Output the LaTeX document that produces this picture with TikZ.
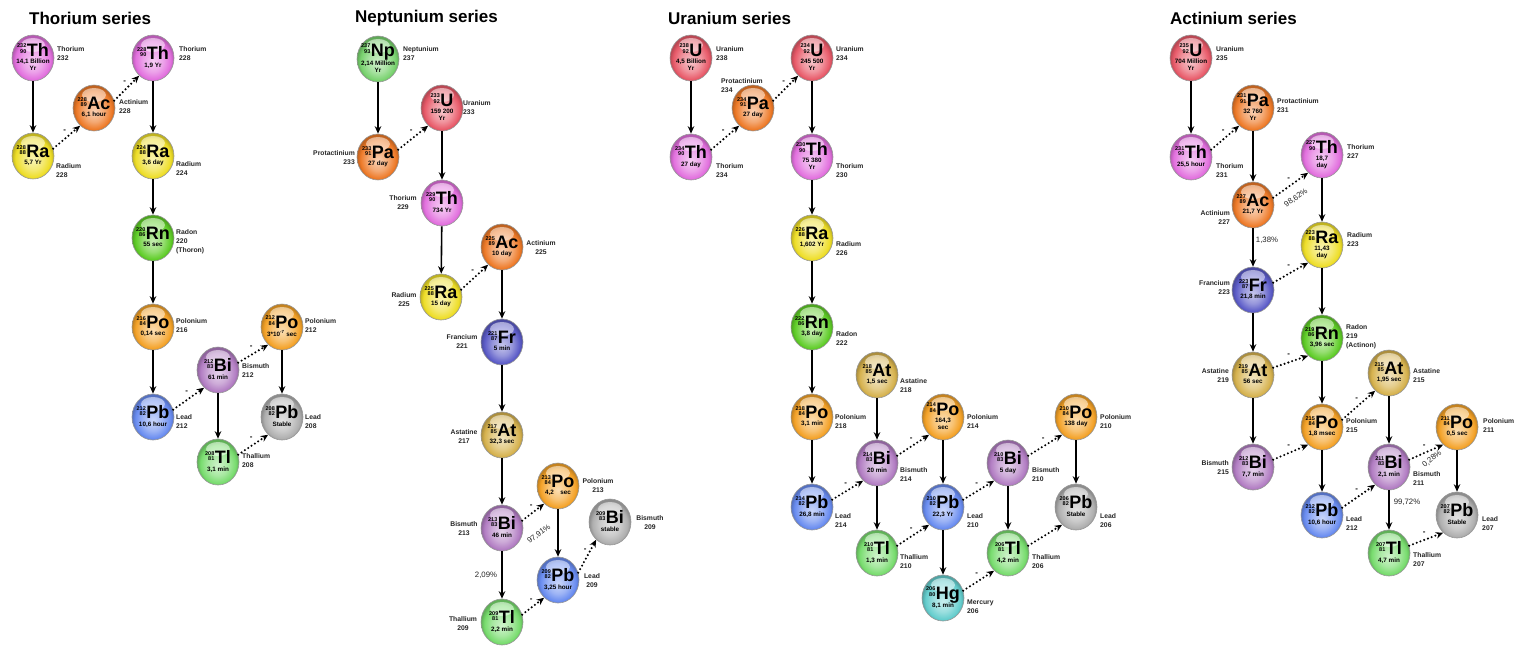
\documentclass[tikz,border=0pt]{standalone}
\usepackage{fontspec}
\setmainfont{Liberation Sans}
\usetikzlibrary{shapes.geometric,arrows.meta}
\definecolor{cTh}{RGB}{226,112,222}
\definecolor{cRa}{RGB}{238,222,40}
\definecolor{cAc}{RGB}{238,122,40}
\definecolor{cRn}{RGB}{95,205,40}
\definecolor{cPo}{RGB}{244,162,40}
\definecolor{cPb}{RGB}{105,140,240}
\definecolor{cBi}{RGB}{178,125,195}
\definecolor{cTl}{RGB}{120,220,110}
\definecolor{cSt}{RGB}{175,175,175}
\definecolor{cNp}{RGB}{120,210,110}
\definecolor{cU}{RGB}{232,90,105}
\definecolor{cPa}{RGB}{238,122,40}
\definecolor{cFr}{RGB}{92,92,200}
\definecolor{cAt}{RGB}{214,178,78}
\definecolor{cHg}{RGB}{100,205,205}
\colorlet{ballc}{cTh}\colorlet{ballin}{white}\colorlet{ballmid}{white}\colorlet{ballout}{black}
\pgfdeclareradialshading[ballin,ballmid,ballc,ballout]{glossy}{\pgfpoint{0bp}{-4bp}}{color(0bp)=(ballin); color(12bp)=(ballmid); color(21bp)=(ballc); color(25bp)=(ballout); color(50bp)=(ballout)}
\newcommand\nucl[4]{\fontsize{6.3}{6.8}\selectfont\bfseries\begin{tabular}{@{}c@{}}{\fontsize{5.5}{5.8}\selectfont\raisebox{3pt}{\begin{tabular}[b]{@{}r@{}}#1\\#2\end{tabular}}}\kern0.5pt{\fontsize{18}{18}\selectfont #3}\\[0.3pt] #4\end{tabular}}
\newcommand\nuc[7]{%
  \colorlet{ballc}{#3}\colorlet{ballin}{#3!35!white}\colorlet{ballmid}{#3!65!white}\colorlet{ballout}{#3!80!black}%
  \node[ball] (#1) at #2 {};
  \node[intext] (#1t) at (#1.center) {\nucl{#4}{#5}{#6}{#7}};}
\newcommand\labR[3]{\node[lab,anchor=north west,align=left] (#1) at #2 {#3};}
\newcommand\labL[3]{\node[lab,anchor=north east,align=right] (#1) at #2 {#3};}
\newcommand\labC[3]{\node[lab,anchor=north,align=center] (#1) at #2 {#3};}
\newcommand\alf[2]{\draw[alpha] (#1) -- (#2);}
\newcommand\bet[2]{\draw[beta] (#1.20) -- (#2.232) node[dashl] (#1#2m) {-};}
\tikzset{
  ball/.style={ellipse, minimum width=42pt, minimum height=46pt, inner sep=0pt,
    draw=black!40, line width=0.6pt, shading=glossy, shade,
    path picture={\fill[white,opacity=0.5,shift={(path picture bounding box.center)}] (0,-13) ellipse (12 and 7);}},
  intext/.style={inner sep=0pt, text=black},
  lab/.style={font=\fontsize{6.8}{9}\selectfont\bfseries, inner sep=0pt, yshift=2.7pt, text=black!85},
  alpha/.style={line width=1.6pt, -{Stealth[length=7.5pt,width=6.5pt]}},
  beta/.style={line width=2.3pt, dash pattern=on 0pt off 4pt, line cap=round, -{Stealth[length=7.5pt,width=6.5pt]}},
  dashl/.style={midway, above=4pt, xshift=-2pt, font=\fontsize{8}{8}\selectfont\bfseries, inner sep=0pt},
  pct/.style={font=\fontsize{7.8}{8}\selectfont, inner sep=0pt, text=black!85},
  ttl/.style={font=\fontsize{17}{17}\selectfont\bfseries, anchor=west, inner sep=0pt}
}
\begin{document}
\begin{tikzpicture}[x=1pt,y=-1pt]
\useasboundingbox (0,0) rectangle (1525,645);
\fill[white] (0,0) rectangle (1525,645);
% titles
\node[ttl] (t1) at (29,18) {Thorium series};
\node[ttl] (t2) at (355,18) {Neptunium series};
\node[ttl] (t3) at (668,18) {Uranium series};
\node[ttl] (t4) at (1170,18) {Actinium series};
% ---------------- Thorium series
\nuc{thThA}{(33,58)}{cTh}{232}{90}{Th}{14,1 Billion\\Yr}
\nuc{thRaA}{(33,156)}{cRa}{228}{88}{Ra}{5,7 Yr}
\nuc{thAc}{(94,108)}{cAc}{228}{89}{Ac}{6,1 hour}
\nuc{thThB}{(153,58)}{cTh}{228}{90}{Th}{1,9 Yr}
\nuc{thRaB}{(153,156)}{cRa}{224}{88}{Ra}{3,6 day}
\nuc{thRn}{(153,238)}{cRn}{220}{86}{Rn}{55 sec}
\nuc{thPoA}{(153,327)}{cPo}{216}{84}{Po}{0,14 sec}
\nuc{thPbA}{(153,417)}{cPb}{212}{82}{Pb}{10,6 hour}
\nuc{thBi}{(218,370)}{cBi}{212}{83}{Bi}{61 min}
\nuc{thPoB}{(282,327)}{cPo}{212}{84}{Po}{3*10\textsuperscript{-7} sec}
\nuc{thPbB}{(282,417)}{cSt}{208}{82}{Pb}{Stable}
\nuc{thTl}{(218,462)}{cTl}{208}{81}{Tl}{3,1 min}
\labR{lthThA}{(57,49)}{Thorium\\232}
\labR{lthRaA}{(56,166)}{Radium\\228}
\labR{lthAc}{(119,102)}{Actinium\\228}
\labR{lthThB}{(179,49)}{Thorium\\228}
\labR{lthRaB}{(176,164)}{Radium\\224}
\labR{lthRn}{(176,232)}{Radon\\220\\(Thoron)}
\labR{lthPoA}{(176,321)}{Polonium\\216}
\labR{lthPbA}{(176,417)}{Lead\\212}
\labR{lthBi}{(242,366)}{Bismuth\\212}
\labR{lthPoB}{(305,321)}{Polonium\\212}
\labR{lthPbB}{(305,417)}{Lead\\208}
\labR{lthTl}{(242,456)}{Thallium\\208}
\alf{thThA}{thRaA}
\alf{thThB}{thRaB}
\alf{thRaB}{thRn}
\alf{thRn}{thPoA}
\alf{thPoA}{thPbA}
\alf{thBi}{thTl}
\alf{thPoB}{thPbB}
\bet{thRaA}{thAc}
\bet{thAc}{thThB}
\bet{thPbA}{thBi}
\bet{thBi}{thPoB}
\bet{thTl}{thPbB}
% ---------------- Neptunium series
\nuc{npNp}{(378,59)}{cNp}{237}{93}{Np}{2,14 Million\\Yr}
\nuc{npPa}{(378,157)}{cPa}{233}{91}{Pa}{27 day}
\nuc{npU}{(442,108)}{cU}{233}{92}{U}{159 200\\Yr}
\nuc{npTh}{(442,203)}{cTh}{229}{90}{Th}{734 Yr}
\nuc{npAc}{(502,247)}{cAc}{225}{89}{Ac}{10 day}
\nuc{npRa}{(441,297)}{cRa}{225}{88}{Ra}{15 day}
\nuc{npFr}{(502,342)}{cFr}{221}{87}{Fr}{5 min}
\nuc{npAt}{(502,435)}{cAt}{217}{85}{At}{32,3 sec}
\nuc{npBiA}{(502,528)}{cBi}{213}{83}{Bi}{46 min}
\nuc{npPo}{(558,486)}{cPo}{213}{84}{Po}{4,2\quad sec}
\nuc{npBiB}{(610,522)}{cSt}{209}{83}{Bi}{stable}
\nuc{npPb}{(558,580)}{cPb}{209}{82}{Pb}{3,25 hour}
\nuc{npTl}{(502,622)}{cTl}{209}{81}{Tl}{2,2 min}
\labR{lnpNp}{(403,49)}{Neptunium\\237}
\labL{lnpPa}{(355,153)}{Protactinium\\233}
\labR{lnpU}{(463,103)}{Uranium\\233}
\labC{lnpTh}{(403,198)}{Thorium\\229}
\labC{lnpAc}{(541,243)}{Actinium\\225}
\labC{lnpRa}{(404,295)}{Radium\\225}
\labC{lnpFr}{(462,337)}{Francium\\221}
\labC{lnpAt}{(464,432)}{Astatine\\217}
\labC{lnpBiA}{(464,524)}{Bismuth\\213}
\labC{lnpTl}{(463,619)}{Thallium\\209}
\labC{lnpPo}{(598,481)}{Polonium\\213}
\labC{lnpBiB}{(650,518)}{Bismuth\\209}
\labC{lnpPb}{(592,576)}{Lead\\209}
\alf{npNp}{npPa}
\alf{npU}{npTh}
\alf{npTh}{npRa}
\alf{npAc}{npFr}
\alf{npFr}{npAt}
\alf{npAt}{npBiA}
\alf{npBiA}{npTl}
\alf{npPo}{npPb}
\bet{npPa}{npU}
\bet{npRa}{npAc}
\bet{npBiA}{npPo}
\bet{npTl}{npPb}
\bet{npPb}{npBiB}
\node[pct] (npp1) at (486,575) {2,09\%};
\node[pct,rotate=36] (npp2) at (539,534) {97,91\%};
% ---------------- Uranium series
\nuc{uUA}{(691,58)}{cU}{238}{92}{U}{4,5 Billion\\Yr}
\nuc{uThA}{(691,157)}{cTh}{234}{90}{Th}{27 day}
\nuc{uPa}{(753,108)}{cPa}{234}{91}{Pa}{27 day}
\nuc{uUB}{(812,58)}{cU}{234}{92}{U}{245 500\\Yr}
\nuc{uThB}{(812,157)}{cTh}{230}{90}{Th}{75 380\\Yr}
\nuc{uRa}{(812,238)}{cRa}{226}{88}{Ra}{1,602 Yr}
\nuc{uRn}{(812,327)}{cRn}{222}{86}{Rn}{3,8 day}
\nuc{uPoA}{(812,417)}{cPo}{218}{84}{Po}{3,1 min}
\nuc{uAt}{(877,375)}{cAt}{218}{85}{At}{1,5 sec}
\nuc{uPbA}{(812,507)}{cPb}{214}{82}{Pb}{26,8 min}
\nuc{uBiA}{(877,463)}{cBi}{214}{83}{Bi}{20 min}
\nuc{uPoB}{(943,417)}{cPo}{214}{84}{Po}{164,3\\sec}
\nuc{uTlA}{(877,553)}{cTl}{210}{81}{Tl}{1,3 min}
\nuc{uPbB}{(943,507)}{cPb}{210}{82}{Pb}{22,3 Yr}
\nuc{uHg}{(943,598)}{cHg}{206}{80}{Hg}{8,1 min}
\nuc{uBiB}{(1008,463)}{cBi}{210}{83}{Bi}{5 day}
\nuc{uPoC}{(1076,417)}{cPo}{210}{84}{Po}{138 day}
\nuc{uTlB}{(1008,553)}{cTl}{206}{81}{Tl}{4,2 min}
\nuc{uPbC}{(1076,507)}{cSt}{206}{82}{Pb}{Stable}
\labR{luUA}{(716,49)}{Uranium\\238}
\labR{luThA}{(716,166)}{Thorium\\234}
\labR{luPa}{(721,81)}{Protactinium\\234}
\labR{luUB}{(836,49)}{Uranium\\234}
\labR{luThB}{(836,166)}{Thorium\\230}
\labR{luRa}{(836,244)}{Radium\\226}
\labR{luRn}{(836,334)}{Radon\\222}
\labR{luAt}{(900,381)}{Astatine\\218}
\labR{luPoA}{(835,417)}{Polonium\\218}
\labR{luPoB}{(967,417)}{Polonium\\214}
\labR{luPoC}{(1100,417)}{Polonium\\210}
\labR{luBiA}{(900,470)}{Bismuth\\214}
\labR{luBiB}{(1032,470)}{Bismuth\\210}
\labR{luPbA}{(835,516)}{Lead\\214}
\labR{luPbB}{(967,516)}{Lead\\210}
\labR{luPbC}{(1100,516)}{Lead\\206}
\labR{luTlA}{(900,557)}{Thallium\\210}
\labR{luTlB}{(1032,557)}{Thallium\\206}
\labR{luHg}{(967,602)}{Mercury\\206}
\alf{uUA}{uThA}
\alf{uUB}{uThB}
\alf{uThB}{uRa}
\alf{uRa}{uRn}
\alf{uRn}{uPoA}
\alf{uPoA}{uPbA}
\alf{uAt}{uBiA}
\alf{uBiA}{uTlA}
\alf{uPoB}{uPbB}
\alf{uPbB}{uHg}
\alf{uBiB}{uTlB}
\alf{uPoC}{uPbC}
\bet{uThA}{uPa}
\bet{uPa}{uUB}
\bet{uPbA}{uBiA}
\bet{uBiA}{uPoB}
\bet{uTlA}{uPbB}
\bet{uPbB}{uBiB}
\bet{uBiB}{uPoC}
\bet{uHg}{uTlB}
\draw[beta] (uTlB.20) -- (uPbC.232);
% ---------------- Actinium series
\nuc{aU}{(1191,58)}{cU}{235}{92}{U}{704 Million\\Yr}
\nuc{aThA}{(1191,157)}{cTh}{231}{90}{Th}{25,5 hour}
\nuc{aPa}{(1253,108)}{cPa}{231}{91}{Pa}{32 760\\Yr}
\nuc{aAc}{(1253,205)}{cAc}{227}{89}{Ac}{21,7 Yr}
\nuc{aThB}{(1322,155)}{cTh}{227}{90}{Th}{18,7\\day}
\nuc{aRa}{(1322,245)}{cRa}{223}{88}{Ra}{11,43\\day}
\nuc{aFr}{(1253,290)}{cFr}{223}{87}{Fr}{21,8 min}
\nuc{aRn}{(1322,338)}{cRn}{219}{86}{Rn}{3,96 sec}
\nuc{aAtA}{(1253,375)}{cAt}{219}{85}{At}{56 sec}
\nuc{aAtB}{(1389,373)}{cAt}{215}{85}{At}{1,95 sec}
\nuc{aPoA}{(1322,427)}{cPo}{215}{84}{Po}{1,8 msec}
\nuc{aBiA}{(1253,467)}{cBi}{212}{83}{Bi}{7,7 min}
\nuc{aBiB}{(1389,467)}{cBi}{211}{83}{Bi}{2,1 min}
\nuc{aPoB}{(1457,427)}{cPo}{211}{84}{Po}{0,5 sec}
\nuc{aPbA}{(1322,515)}{cPb}{212}{82}{Pb}{10,6 hour}
\nuc{aPbB}{(1457,515)}{cSt}{207}{82}{Pb}{Stable}
\nuc{aTl}{(1389,553)}{cTl}{207}{81}{Tl}{4,7 min}
\labR{laU}{(1216,49)}{Uranium\\235}
\labR{laThA}{(1216,166)}{Thorium\\231}
\labR{laPa}{(1277,101)}{Protactinium\\231}
\labR{laThB}{(1347,147)}{Thorium\\227}
\labL{laAc}{(1230,213)}{Actinium\\227}
\labR{laRa}{(1347,235)}{Radium\\223}
\labL{laFr}{(1230,283)}{Francium\\223}
\labR{laRn}{(1346,327)}{Radon\\219\\(Actinon)}
\labL{laAtA}{(1229,371)}{Astatine\\219}
\labR{laAtB}{(1413,371)}{Astatine\\215}
\labR{laPoA}{(1346,421)}{Polonium\\215}
\labR{laPoB}{(1483,421)}{Polonium\\211}
\labL{laBiA}{(1229,463)}{Bismuth\\215}
\labR{laBiB}{(1413,474)}{Bismuth\\211}
\labR{laPbA}{(1346,519)}{Lead\\212}
\labR{laPbB}{(1482,519)}{Lead\\207}
\labR{laTl}{(1413,555)}{Thallium\\207}
\alf{aU}{aThA}
\alf{aPa}{aAc}
\alf{aAc}{aFr}
\alf{aThB}{aRa}
\alf{aRa}{aRn}
\alf{aFr}{aAtA}
\alf{aAtA}{aBiA}
\alf{aRn}{aPoA}
\alf{aPoA}{aPbA}
\alf{aAtB}{aBiB}
\alf{aBiB}{aTl}
\alf{aPoB}{aPbB}
\bet{aThA}{aPa}
\bet{aAc}{aThB}
\bet{aFr}{aRa}
\bet{aAtA}{aRn}
\bet{aBiA}{aPoA}
\bet{aPoA}{aAtB}
\bet{aPbA}{aBiB}
\bet{aBiB}{aPoB}
\bet{aTl}{aPbB}
\node[pct,rotate=35] (ap1) at (1296,198) {98,62\%};
\node[pct] (ap2) at (1267,240) {1,38\%};
\node[pct,rotate=40] (ap3) at (1432,459) {0,28\%};
\node[pct] (ap4) at (1407,502) {99,72\%};
\end{tikzpicture}
\end{document}
